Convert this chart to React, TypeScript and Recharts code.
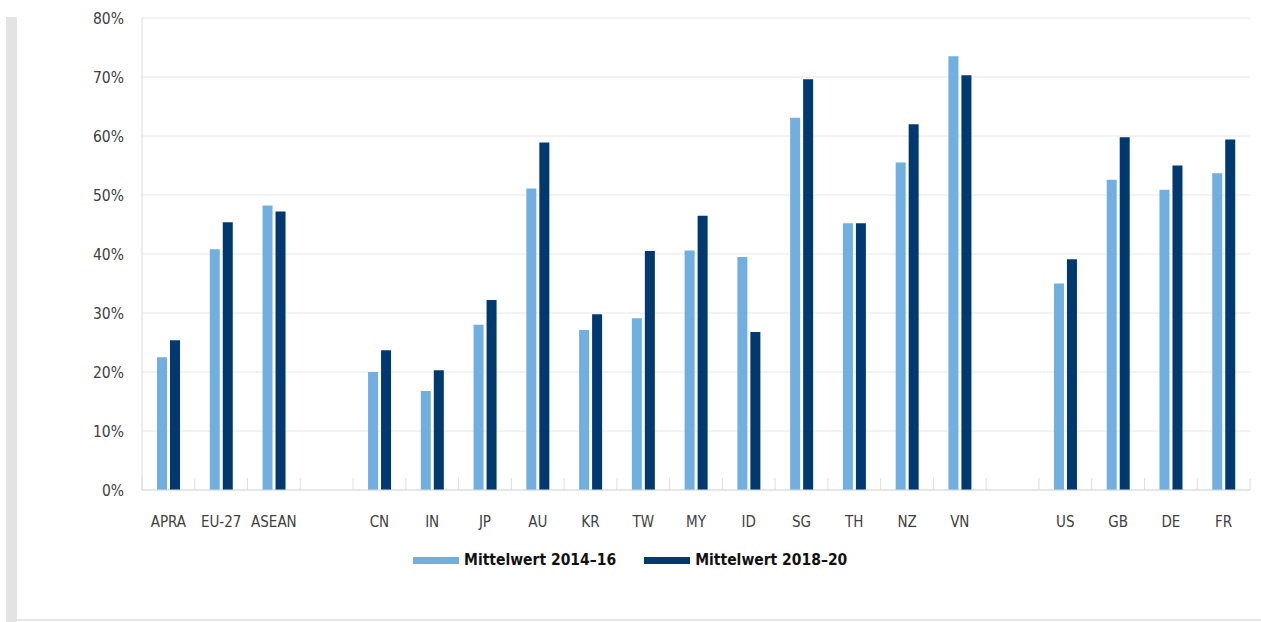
import { Bar, BarChart, CartesianGrid, XAxis, YAxis } from "recharts";

const categories = ["APRA", "EU-27", "ASEAN", " ", "CN", "IN", "JP", "AU", "KR", "TW", "MY", "ID", "SG", "TH", "NZ", "VN", "  ", "US", "GB", "DE", "FR"];
const mean1416 = [22.5, 40.8, 48.2, null, 20.0, 16.8, 28.0, 51.1, 27.1, 29.1, 40.6, 39.5, 63.1, 45.2, 55.5, 73.5, null, 35.0, 52.6, 50.9, 53.7];
const mean1820 = [25.4, 45.4, 47.2, null, 23.7, 20.3, 32.2, 58.9, 29.8, 40.5, 46.5, 26.8, 69.6, 45.2, 62.0, 70.3, null, 39.1, 59.8, 55.0, 59.4];
const yTicks = [0, 10, 20, 30, 40, 50, 60, 70, 80];

const LIGHT = "#71afe0";
const DARK = "#00396f";
const FONT = "'Liberation Sans Narrow', 'DejaVu Sans Condensed', 'Open Sans', sans-serif";
const LABEL_GAP = 26;
const EDGE_TICK = 12;

const data = categories.map((name, i) => ({ name, a: mean1416[i], b: mean1820[i] }));

// category label plus the small separator ticks at the slot edges
function CategoryTick(props: any) {
  const { x, y, payload, index } = props;
  const half = payload?.offset ?? 0;
  const axisY = y - LABEL_GAP;
  const isLast = index === categories.length - 1;
  return (
    <g>
      <line x1={x - half} x2={x - half} y1={axisY} y2={axisY - EDGE_TICK} stroke="#dedede" />
      {isLast && <line x1={x + half} x2={x + half} y1={axisY} y2={axisY - EDGE_TICK} stroke="#dedede" />}
      <text x={x} y={y} dy="0.71em" textAnchor="middle" fill="#404040" fontSize={15} fontFamily={FONT}>
        {payload.value}
      </text>
    </g>
  );
}

export default function App() {
  return (
    <div style={{ position: "absolute", left: 0, top: 0, width: 1261, height: 622, background: "#fff", fontFamily: FONT }}>
      <div style={{ position: "absolute", left: 6, top: 17, width: 11, height: 605, background: "#e3e3e3" }} />
      <div style={{ position: "absolute", left: 17, top: 619, width: 1244, height: 2, background: "#e6e6e6" }} />
      <div style={{ position: "absolute", left: 0, top: 0 }}>
        <BarChart
          width={1261}
          height={622}
          data={data}
          margin={{ top: 18, right: 11, bottom: 92, left: 0 }}
          barSize={10}
          barGap={3}
        >
          <CartesianGrid stroke="#e6e6e6" vertical={false} />
          <XAxis
            dataKey="name"
            height={40}
            axisLine={{ stroke: "#d9d9d9" }}
            tickLine={false}
            tickSize={0}
            tickMargin={LABEL_GAP}
            interval={0}
            tick={<CategoryTick />}
          />
          <YAxis
            width={142}
            domain={[0, 80]}
            ticks={yTicks}
            interval={0}
            tickFormatter={(v) => `${v}%`}
            axisLine={{ stroke: "#d9d9d9" }}
            tickLine={false}
            tickMargin={12}
            tick={{ fill: "#404040", fontSize: 15.5, fontFamily: FONT }}
          />
          <Bar dataKey="a" name="Mittelwert 2014–16" fill={LIGHT} isAnimationActive={false} />
          <Bar dataKey="b" name="Mittelwert 2018–20" fill={DARK} isAnimationActive={false} />
        </BarChart>
      </div>
      <div
        style={{
          position: "absolute",
          left: 413,
          top: 551,
          display: "flex",
          alignItems: "center",
          fontSize: 15.5,
          fontWeight: 700,
          color: "#111",
          whiteSpace: "nowrap",
        }}
      >
        <span style={{ display: "inline-block", width: 46, height: 7, background: LIGHT, marginRight: 5 }} />
        <span style={{ marginRight: 28 }}>Mittelwert 2014–16</span>
        <span style={{ display: "inline-block", width: 46, height: 7, background: DARK, marginRight: 5 }} />
        <span>Mittelwert 2018–20</span>
      </div>
    </div>
  );
}
